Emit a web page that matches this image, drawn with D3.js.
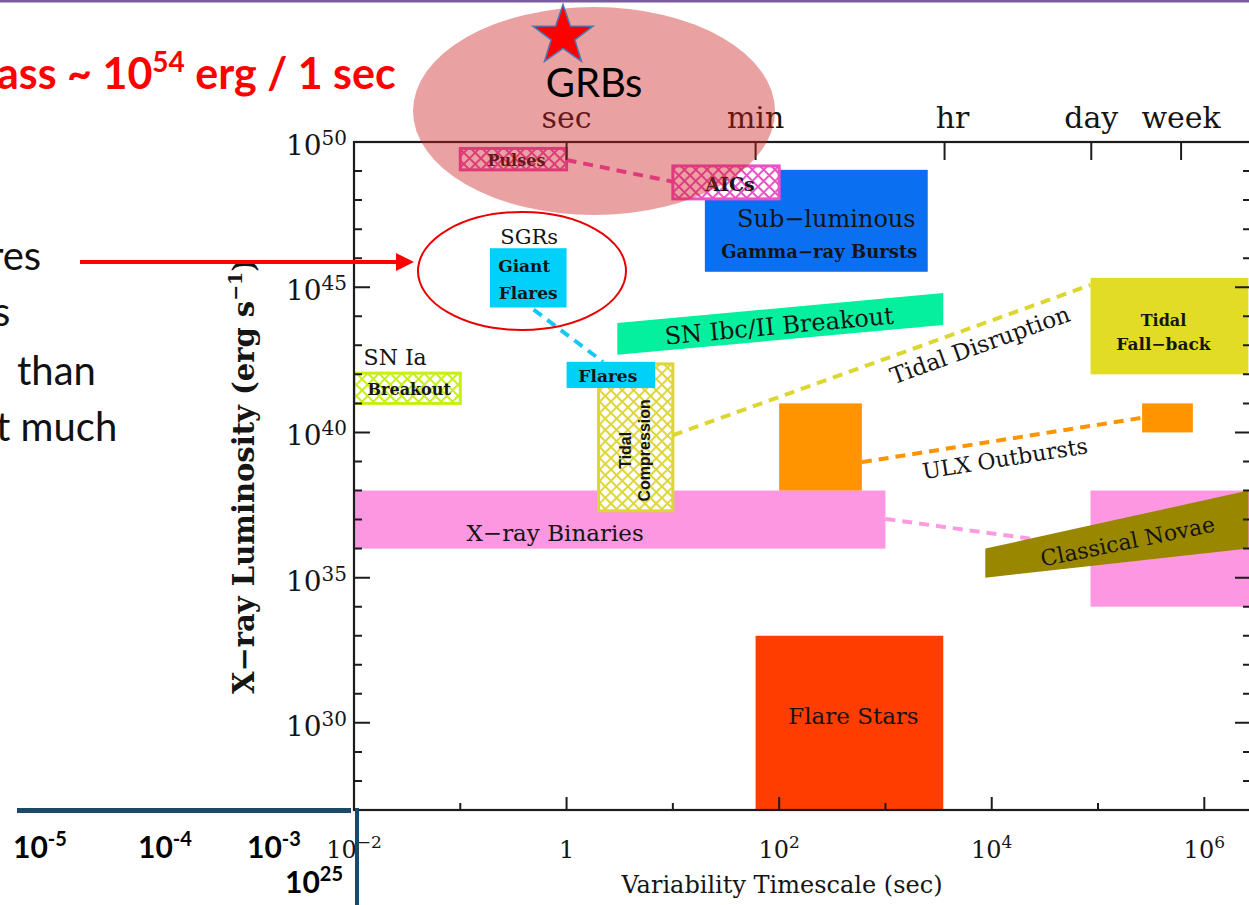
<!DOCTYPE html>
<html>
<head>
<meta charset="utf-8">
<title>X-ray transient phase space</title>
<script src="https://cdn.jsdelivr.net/npm/d3@7"></script>
<style>
  html, body { margin: 0; padding: 0; background: #ffffff; }
  svg { display: block; }
</style>
</head>
<body>
<svg id="chart" width="1249" height="905"></svg>
<script>
// ---------- axis ticks ----------
const xMajorTicks  = [1e-2, 1, 1e2, 1e4, 1e6];
const xMajorLabels = [["10", "−2"], ["1", ""], ["10", "2"], ["10", "4"], ["10", "6"]];
const xMinorTicks  = [1e-1, 10, 1e3, 1e5];
const yMajorTicks  = [1e30, 1e35, 1e40, 1e45, 1e50];
const yMajorLabels = [["10", "30"], ["10", "35"], ["10", "40"], ["10", "45"], ["10", "50"]];
const yMinorTicks  = [1e28, 1e29, 1e31, 1e32, 1e33, 1e34, 1e36, 1e37, 1e38, 1e39,
                      1e41, 1e42, 1e43, 1e44, 1e46, 1e47, 1e48, 1e49];
const timeUnitTicks  = [1, 60, 3600, 86400, 604800];
const timeUnitLabels = ["sec", "min", "hr", "day", "week"];

// ---------- source classes drawn as boxes (time in s, luminosity in erg/s) ----------
const regionNames = ["X-ray Binaries", "X-ray Binaries (long)", "Flare Stars", "ULX Outbursts",
                     "ULX Outbursts (long)", "Tidal Fall-back", "Sub-luminous GRBs",
                     "SGR Giant Flares", "SN Ia Breakout", "Tidal Compression", "SGR Flares",
                     "Pulses", "AICs"];
const regionTime = [[0.01, 1000], [8.5e4, 3e6], [60, 3500], [100, 600],
                    [2.6e5, 7.8e5], [8.5e4, 2.6e6], [20, 2500],
                    [0.19, 1], [0.01, 0.1], [2, 10], [1, 6.8],
                    [0.1, 1], [10, 100]];
const regionLum  = [[1e36, 1e38], [1e34, 1e38], [1e27, 1e33], [1e38, 1e41],
                    [1e40, 1e41], [1e42, 2.1e45], [3.4e45, 1.1e49],
                    [2e44, 2.2e46], [1e41, 1.1e42], [2e37, 2.3e42], [3.4e41, 2.7e42],
                    [1.1e49, 6e49], [1.1e48, 1.5e49]];

// ---------- slanted bands ----------
const bandNames    = ["Classical Novae", "SN Ibc/II Breakout"];
const bandTime     = [[8.7e3, 2.6e6], [3, 3500]];
const bandLumStart = [[1e35, 1e36], [4.7e42, 5.9e43]];
const bandLumEnd   = [[1e36, 1e38], [5e43, 6.3e44]];

// ---------- dashed connectors ----------
const linkNames = ["Pulses-AICs", "SGR", "Tidal Disruption", "ULX Outbursts", "Binaries-Novae"];
const linkFrom  = [[1, 2.4e49], [0.49, 1.7e44], [10, 8e39], [600, 9.5e38], [1000, 1.05e37]];
const linkTo    = [[10, 4.3e48], [2.2, 2.7e42], [8.5e4, 1.2e45], [2.6e5, 3.2e40], [8.5e4, 1.15e36]];

// ---------- slide annotations ----------
const extendedTicks = [["10", "-5"], ["10", "-4"], ["10", "-3"]];
const lumFloorLabel = ["10", "25"];

// ---------- styles ----------
const regionFill = {
  "X-ray Binaries": "#fd97e2", "X-ray Binaries (long)": "#fd97e2", "Flare Stars": "#ff3d00",
  "ULX Outbursts": "#ff9300", "ULX Outbursts (long)": "#ff9300", "Tidal Fall-back": "#e2dc26",
  "Sub-luminous GRBs": "#0b6ff2", "SGR Giant Flares": "#00d0fa", "SGR Flares": "#00d0fa",
  "SN Ia Breakout": "#c6ef12", "Tidal Compression": "#ddd636", "Pulses": "#ec4fb8", "AICs": "#ec4fc6"
};
const hatched = new Set(["SN Ia Breakout", "Tidal Compression", "Pulses", "AICs"]);
const bandFill = { "Classical Novae": "#9a8700", "SN Ibc/II Breakout": "#05f09e" };
const linkColor = {
  "Pulses-AICs": "#ec4fc0", "SGR": "#14c8f4", "Tidal Disruption": "#dcd634",
  "ULX Outbursts": "#ff9300", "Binaries-Novae": "#fb9be2"
};

const SERIF = "'DejaVu Serif', serif";
const SANS  = "'Liberation Sans', Arial, sans-serif";
const SLIDE = "Lato, 'Open Sans', sans-serif";
const INK = "#151515";

const svg = d3.select("#chart");
const defs = svg.append("defs");

// scales: the plotting window runs off the right edge of the page
const x = d3.scaleLog().domain([1e-2, 2.75e6]).range([354, 1251]);
const y = d3.scaleLog().domain([1e27, 1e50]).range([810, 142]);
const [x0, x1] = x.range();
const [y0, y1] = y.range();

defs.append("clipPath").attr("id", "plotClip")
  .append("rect").attr("x", x0).attr("y", y1).attr("width", x1 - x0).attr("height", y0 - y1);

// cross-hatch fills
function hatchPattern(id, color) {
  const p = defs.append("pattern").attr("id", id).attr("patternUnits", "userSpaceOnUse")
    .attr("width", 8).attr("height", 8).attr("patternTransform", "rotate(45)");
  p.append("rect").attr("width", 8).attr("height", 8).attr("fill", "#fff");
  p.append("path").attr("d", "M0 4H8M4 0V8").attr("stroke", color).attr("stroke-width", 1.9);
}
regionNames.forEach((n, i) => { if (hatched.has(n)) hatchPattern("hatch" + i, regionFill[n]); });

const plot = svg.append("g").attr("clip-path", "url(#plotClip)");

// dashed connectors (under the boxes)
plot.selectAll("line.link").data(linkNames).join("line")
  .attr("class", "link")
  .attr("x1", (d, i) => x(linkFrom[i][0])).attr("y1", (d, i) => y(linkFrom[i][1]))
  .attr("x2", (d, i) => x(linkTo[i][0])).attr("y2", (d, i) => y(linkTo[i][1]))
  .attr("stroke", d => linkColor[d]).attr("stroke-width", 4).attr("stroke-dasharray", "10 7");

// boxes and bands, back to front
function drawRegion(i) {
  const n = regionNames[i];
  const r = plot.append("rect")
    .attr("x", x(regionTime[i][0])).attr("width", x(regionTime[i][1]) - x(regionTime[i][0]))
    .attr("y", y(regionLum[i][1])).attr("height", y(regionLum[i][0]) - y(regionLum[i][1]));
  if (hatched.has(n)) {
    r.attr("fill", `url(#hatch${i})`).attr("stroke", regionFill[n]).attr("stroke-width", 3);
  } else {
    r.attr("fill", regionFill[n]);
  }
}
function drawBand(j) {
  const n = bandNames[j];
  const pts = [[bandTime[j][0], bandLumStart[j][1]], [bandTime[j][1], bandLumEnd[j][1]],
               [bandTime[j][1], bandLumEnd[j][0]], [bandTime[j][0], bandLumStart[j][0]]];
  plot.append("path")
    .attr("d", d3.line().x(p => x(p[0])).y(p => y(p[1]))(pts) + "Z")
    .attr("fill", bandFill[n]);
}
[0, 1].forEach(drawRegion);
drawBand(0);
[2, 3, 4, 5].forEach(drawRegion);
drawBand(1);
[6, 7, 8, 9, 10, 11, 12].forEach(drawRegion);

// ---------- frame and ticks ----------
const axis = svg.append("g").attr("stroke", "#1c1c1c").attr("fill", "none");
axis.append("rect").attr("x", x0).attr("y", y1).attr("width", x1 - x0).attr("height", y0 - y1)
  .attr("stroke-width", 2.2);
function tickLines(vals, fn) {
  vals.forEach(v => axis.append("path").attr("d", fn(v)).attr("stroke-width", 2));
}
tickLines(xMajorTicks, v => `M${x(v)},${y0}v-13`);
tickLines(xMinorTicks, v => `M${x(v)},${y0}v-7`);
tickLines(yMajorTicks, v => `M${x0},${y(v)}h16M${x1},${y(v)}h-16`);
tickLines(yMinorTicks, v => `M${x0},${y(v)}h8M${x1},${y(v)}h-8`);
tickLines(timeUnitTicks, v => `M${x(v)},${y1}v18`);

// power-of-ten label helper
function powerText(g, parts, fs, supFs, lift) {
  g.append("tspan").text(parts[0]);
  if (parts[1]) g.append("tspan").attr("font-size", supFs).attr("dy", -lift).text(parts[1]);
}

const labels = svg.append("g").attr("fill", INK).attr("font-family", SERIF);

xMajorTicks.forEach((v, i) => {
  const t = labels.append("text").attr("x", x(v)).attr("y", 858)
    .attr("text-anchor", "middle").attr("font-size", 24);
  powerText(t, xMajorLabels[i], 24, 17, 10);
});
yMajorTicks.forEach((v, i) => {
  const t = labels.append("text").attr("x", 347).attr("y", y(v) + 13)
    .attr("text-anchor", "end").attr("font-size", 28);
  powerText(t, yMajorLabels[i], 28, 20, 10);
});
timeUnitTicks.forEach((v, i) => {
  labels.append("text").attr("x", x(v) + (timeUnitLabels[i] === "hr" ? 8 : 0)).attr("y", 128)
    .attr("text-anchor", "middle").attr("font-size", 30).text(timeUnitLabels[i]);
});

// axis titles
labels.append("text").attr("x", (x0 + 1204) / 2 + 3).attr("y", 893).attr("text-anchor", "middle")
  .attr("font-size", 24).text("Variability Timescale (sec)");
const yt = labels.append("text").attr("transform", "translate(254,476) rotate(-90)")
  .attr("text-anchor", "middle").attr("font-size", 29).attr("font-weight", "bold");
yt.append("tspan").text("X−ray Luminosity (erg s");
yt.append("tspan").attr("font-size", 19).attr("dy", -12).text("−1");
yt.append("tspan").attr("dy", 12).text(")");

// ---------- region labels ----------
function regionBox(name) {
  const i = regionNames.indexOf(name);
  const ax = Math.max(x0, x(regionTime[i][0])), bx = Math.min(x1, x(regionTime[i][1]));
  return { cx: (ax + bx) / 2, cy: (y(regionLum[i][0]) + y(regionLum[i][1])) / 2,
           top: y(regionLum[i][1]), bottom: y(regionLum[i][0]) };
}
function say(txt, px, py, fs, opt = {}) {
  const t = labels.append("text").attr("x", px).attr("y", py)
    .attr("text-anchor", opt.anchor || "middle").attr("font-size", fs)
    .attr("font-weight", opt.bold ? "bold" : null)
    .attr("font-family", opt.family || null)
    .text(txt);
  if (opt.rotate !== undefined) {
    t.attr("transform", `rotate(${opt.rotate},${px},${py})`).attr("dominant-baseline", "central");
  }
  return t;
}

let b = regionBox("Pulses");          say("Pulses", b.cx + 3, b.cy + 7, 16, { bold: true });
b = regionBox("AICs");                say("AICs", b.cx + 4, b.cy + 9, 19, { bold: true });
b = regionBox("Sub-luminous GRBs");
say("Sub−luminous", b.cx + 10, b.cy + 6, 24);
say("Gamma−ray Bursts", b.cx + 3, b.cy + 37, 18, { bold: true });
b = regionBox("SGR Giant Flares");
say("SGRs", b.cx + 1, b.top - 4, 21);
say("Giant", b.cx - 4, b.cy - 6, 17, { bold: true });
say("Flares", b.cx, b.cy + 21, 17, { bold: true });
b = regionBox("SGR Flares");          say("Flares", b.cx - 3, b.cy + 7, 17, { bold: true });
b = regionBox("SN Ia Breakout");
say("SN Ia", b.cx - 12, b.top - 8, 22);
say("Breakout", b.cx + 2, b.cy + 7, 16, { bold: true });
b = regionBox("Tidal Compression");
labels.append("text").attr("transform", `translate(${b.cx - 5},${b.cy + 13}) rotate(-90)`)
  .attr("text-anchor", "middle").attr("font-family", SANS).attr("font-weight", "bold")
  .attr("font-size", 16).text("Tidal");
labels.append("text").attr("transform", `translate(${b.cx + 14},${b.cy + 13}) rotate(-90)`)
  .attr("text-anchor", "middle").attr("font-family", SANS).attr("font-weight", "bold")
  .attr("font-size", 16).text("Compression");
b = regionBox("Tidal Fall-back");
say("Tidal", b.cx - 6, b.cy, 16, { bold: true });
say("Fall−back", b.cx - 6, b.cy + 24, 17, { bold: true });
b = regionBox("X-ray Binaries");      say("X−ray Binaries", x(0.78), b.cy + 21, 23);
b = regionBox("Flare Stars");         say("Flare Stars", b.cx + 4, b.cy + 1, 23);

// labels that follow a slanted band or connector
function bandLabel(name, txt, tx, fs, angleOverride) {
  const j = bandNames.indexOf(name);
  const ax = x(bandTime[j][0]), bx = x(bandTime[j][1]);
  const f = (x(tx) - ax) / (bx - ax);
  const topY = y(bandLumStart[j][1]) + f * (y(bandLumEnd[j][1]) - y(bandLumStart[j][1]));
  const botY = y(bandLumStart[j][0]) + f * (y(bandLumEnd[j][0]) - y(bandLumStart[j][0]));
  const ang = angleOverride !== undefined ? angleOverride
    : Math.atan2(y(bandLumEnd[j][1]) - y(bandLumStart[j][1]), bx - ax) * 180 / Math.PI;
  say(txt, x(tx), (topY + botY) / 2 + 2, fs, { rotate: ang });
}
bandLabel("SN Ibc/II Breakout", "SN Ibc/II Breakout", 100, 24);
bandLabel("Classical Novae", "Classical Novae", 1.9e5, 22, -11.5);

function linkLabel(name, txt, f, offset, fs) {
  const i = linkNames.indexOf(name);
  const ax = x(linkFrom[i][0]), ay = y(linkFrom[i][1]);
  const bx = x(linkTo[i][0]), by = y(linkTo[i][1]);
  const ang = Math.atan2(by - ay, bx - ax);
  const px = ax + f * (bx - ax) - offset * Math.sin(ang);
  const py = ay + f * (by - ay) + offset * Math.cos(ang);
  say(txt, px, py, fs, { rotate: ang * 180 / Math.PI });
}
linkLabel("Tidal Disruption", "Tidal Disruption", 0.72, 19, 23);
linkLabel("ULX Outbursts", "ULX Outbursts", 0.5, 19, 22);

// ---------- slide overlay ----------
const over = svg.append("g");
over.append("rect").attr("x", 0).attr("y", 0).attr("width", 1249).attr("height", 2.5).attr("fill", "#7b5d9e");

// GRB ellipse and star
over.append("ellipse").attr("cx", 594).attr("cy", 111).attr("rx", 181).attr("ry", 104)
  .attr("fill", "#cc2020").attr("fill-opacity", 0.42);
const starPts = d3.range(10).map(k => {
  const r = k % 2 ? 12.5 : 31.5, a = -Math.PI / 2 + k * Math.PI / 5;
  return [563 + r * Math.cos(a), 36 + r * Math.sin(a)];
});
over.append("path").attr("d", d3.line()(starPts) + "Z")
  .attr("fill", "#ff0000").attr("stroke", "#4a78b4").attr("stroke-width", 1.5);
over.append("text").attr("x", 594).attr("y", 97).attr("text-anchor", "middle")
  .attr("font-family", SLIDE).attr("font-size", 40).attr("fill", "#000").text("GRBs");

// red headline (runs off the left edge)
const head = over.append("text").attr("x", -3).attr("y", 89).attr("font-family", SLIDE)
  .attr("font-weight", "bold").attr("font-size", 43).attr("fill", "#ff0000");
head.append("tspan").text("ass ~ 10");
head.append("tspan").attr("font-size", 28).attr("dy", -17).text("54");
head.append("tspan").attr("dy", 17).text(" erg / 1 sec");

// body text fragments along the left edge
const body = over.append("g").attr("font-family", SLIDE).attr("font-size", 40).attr("fill", "#111");
body.append("text").attr("x", -11).attr("y", 270).text("res");
body.append("text").attr("x", -7).attr("y", 326).text("s");
body.append("text").attr("x", 17).attr("y", 385).text("than");
body.append("text").attr("x", -4).attr("y", 441).text("t much");

// pointer arrow and SGR circle
over.append("line").attr("x1", 80).attr("y1", 262).attr("x2", 398).attr("y2", 262)
  .attr("stroke", "#ff0000").attr("stroke-width", 4);
over.append("path").attr("d", "M396,253L414,262L396,271Z").attr("fill", "#ff0000");
over.append("ellipse").attr("cx", 522).attr("cy", 271).attr("rx", 104).attr("ry", 59)
  .attr("fill", "none").attr("stroke", "#e80000").attr("stroke-width", 2);

// extended axis drawn to the left
over.append("rect").attr("x", 17).attr("y", 808).attr("width", 334).attr("height", 5).attr("fill", "#1b4a68");
over.append("rect").attr("x", 355).attr("y", 808).attr("width", 4).attr("height", 97).attr("fill", "#1b4a68");
const extX = [13, 138, 247];
extendedTicks.forEach((p, i) => {
  const t = over.append("text").attr("x", extX[i]).attr("y", 858).attr("font-family", SLIDE)
    .attr("font-weight", "bold").attr("font-size", 30).attr("fill", "#000");
  powerText(t, p, 30, 20, 12);
});
const lf = over.append("text").attr("x", 285).attr("y", 893).attr("font-family", SLIDE)
  .attr("font-weight", "bold").attr("font-size", 30).attr("fill", "#000");
powerText(lf, lumFloorLabel, 30, 20, 12);
</script>
</body>
</html>
